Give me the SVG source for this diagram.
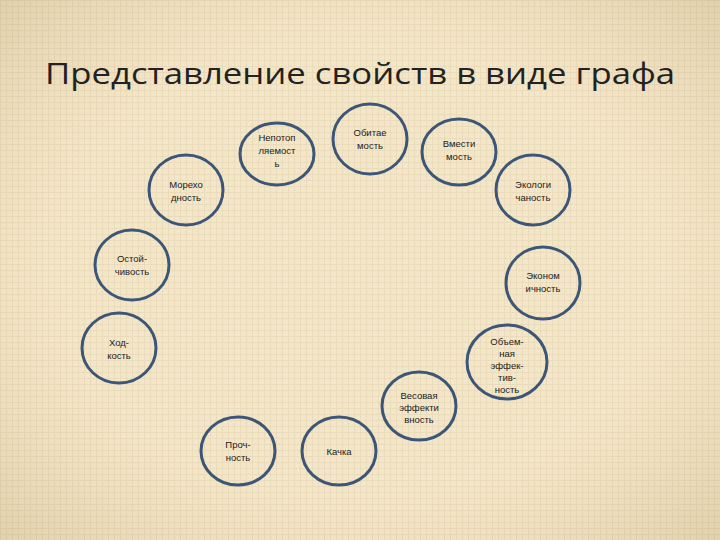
<svg xmlns="http://www.w3.org/2000/svg" width="720" height="540" viewBox="0 0 720 540">
<defs>
<pattern id="g" width="6" height="6" patternUnits="userSpaceOnUse">
<rect width="6" height="6" fill="#f0e2c3"/>
<path d="M0 0.5H6M0.5 0V6" stroke="#e4d3b0" stroke-width="1"/>
</pattern>
<radialGradient id="v" cx="50%" cy="50%" r="70%">
<stop offset="60%" stop-color="#fff3d8" stop-opacity="0.25"/>
<stop offset="100%" stop-color="#c9b48a" stop-opacity="0.35"/>
</radialGradient>
</defs>
<style>
.n ellipse{fill:none;stroke:#3c5678;stroke-width:3}
.n text{font-family:"Liberation Sans",Arial,sans-serif;font-size:9.5px;fill:#222;text-anchor:middle}
.t{font-family:"Open Sans","Liberation Sans",sans-serif;font-size:30px;fill:#222;text-anchor:middle}
</style>
<rect width="720" height="540" fill="url(#g)"/>
<rect width="720" height="540" fill="url(#v)"/>
<text class="t" x="360" y="84" textLength="630" lengthAdjust="spacingAndGlyphs">Представление свойств в виде графа</text>
<g id="nepotop" class="n"><ellipse cx="277" cy="154" rx="37" ry="31"/><text x="277" y="141">Непотоп</text><text x="277" y="154">ляемост</text><text x="277" y="167">ь</text></g>
<g id="obitaemost" class="n"><ellipse cx="370" cy="139" rx="37" ry="35"/><text x="370" y="136">Обитае</text><text x="370" y="149">мость</text></g>
<g id="vmestimost" class="n"><ellipse cx="459" cy="152" rx="37" ry="33"/><text x="459" y="147">Вмести</text><text x="459" y="160">мость</text></g>
<g id="morehodnost" class="n"><ellipse cx="186" cy="190" rx="37" ry="35"/><text x="186" y="188">Морехо</text><text x="186" y="201">дность</text></g>
<g id="ekologichnost" class="n"><ellipse cx="533" cy="190" rx="37" ry="35"/><text x="533" y="188">Экологи</text><text x="533" y="201">чаность</text></g>
<g id="ostoichivost" class="n"><ellipse cx="132" cy="265" rx="37" ry="35"/><text x="132" y="262">Остой-</text><text x="132" y="275">чивость</text></g>
<g id="ekonomichnost" class="n"><ellipse cx="543" cy="283" rx="37" ry="36"/><text x="543" y="279">Эконом</text><text x="543" y="292">ичность</text></g>
<g id="hodkost" class="n"><ellipse cx="119" cy="348" rx="37" ry="35"/><text x="119" y="346">Ход-</text><text x="119" y="359">кость</text></g>
<g id="obemnaya" class="n"><ellipse cx="507" cy="362" rx="40" ry="37"/><text x="507" y="345">Объем-</text><text x="507" y="357">ная</text><text x="507" y="369">эффек-</text><text x="507" y="381">тив-</text><text x="507" y="393">ность</text></g>
<g id="vesovaya" class="n"><ellipse cx="419" cy="406" rx="37" ry="34"/><text x="419" y="399">Весовая</text><text x="419" y="411">эффекти</text><text x="419" y="423">вность</text></g>
<g id="prochnost" class="n"><ellipse cx="238" cy="451" rx="37" ry="34"/><text x="238" y="448">Проч-</text><text x="238" y="461">ность</text></g>
<g id="kachka" class="n"><ellipse cx="339" cy="451" rx="37" ry="34"/><text x="339" y="455">Качка</text></g>
<g id="connectors"/>
</svg>
